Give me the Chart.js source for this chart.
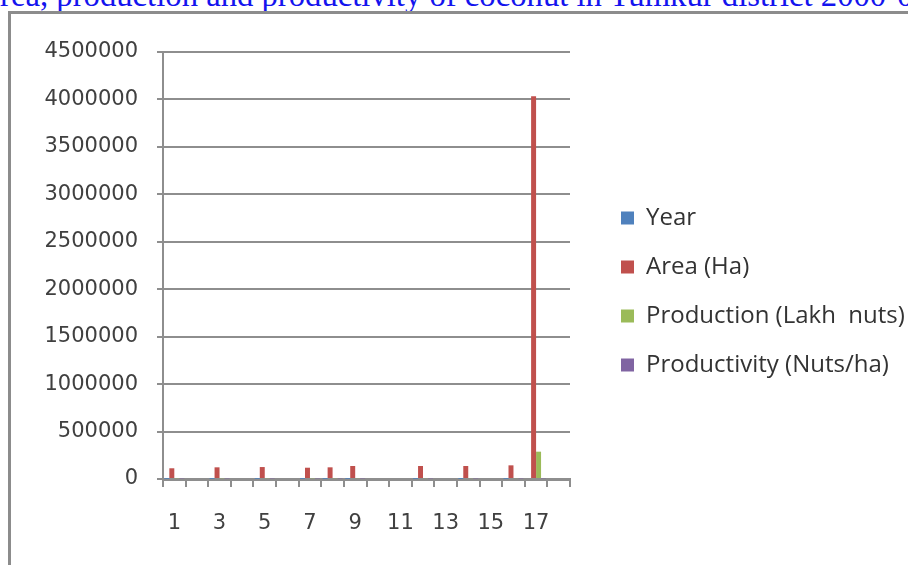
<!DOCTYPE html>
<html>
<head>
<meta charset="utf-8">
<script src="https://cdn.jsdelivr.net/npm/chart.js@4/dist/chart.umd.min.js"></script>
<style>
  html, body { margin: 0; padding: 0; background: #fff; overflow: hidden; width: 908px; height: 565px; }
  #title { position: absolute; left: -23.5px; top: -19.5px; font: 32.7px/28px 'Liberation Serif', 'Times New Roman', serif; color: #1414ee; white-space: nowrap; }
  #frame { position: absolute; left: 8px; top: 11px; width: 1000px; height: 700px; border-left: 3px solid #8c8c8c; border-top: 3px solid #8c8c8c; }
  #wrap { position: absolute; left: 0; top: 0; width: 908px; height: 565px; }
</style>
</head>
<body>
<div id="title">Area, production and productivity of coconut in Tumkur district 2000-01 to 2008-09</div>
<div id="frame"></div>
<div id="wrap"><canvas id="c" width="908" height="565" style="width:908px;height:565px"></canvas></div>
<script>
// Row numbers of the source table (blank rows have no values)
const rows = ['1','2','3','4','5','6','7','8','9','10','11','12','13','14','15','16','17','18'];

const yearValues = [2000, null, 2001, null, 2002, null, 2003, 2004, 2005, null, null, 2006, null, 2007, null, 2008, null, null];
const areaHa = [113000, null, 123000, null, 126000, null, 119000, 123000, 137000, null, null, 137000, null, 137000, null, 144000, 4033000, null];
const productionLakhNuts = [7800, null, 8100, null, 8300, null, 7900, 8200, 8800, null, null, 9000, null, 9100, null, 9300, 288000, null];
const productivityNutsHa = [6900, null, 6600, null, 6600, null, 6600, 6700, 6400, null, null, 6600, null, 6600, null, 6500, 7000, null];

const yTickValues = [0, 500000, 1000000, 1500000, 2000000, 2500000, 3000000, 3500000, 4000000, 4500000];

const axisGrey = '#8e8e8e';
const textGrey = '#404040';
const tickFont = { family: 'DejaVu Sans', size: 21 };

// Give the side legend a fixed width so its swatches line up in one column
const legendSpan = {
  id: 'legendSpan',
  afterInit(chart) {
    const lg = chart.legend;
    if (!lg || lg._spanPatched) return;
    const fit = lg.fit;
    lg.fit = function () { fit.call(this); this.width = 312; };
    lg._spanPatched = true;
  }
};

new Chart(document.getElementById('c'), {
  type: 'bar',
  data: {
    labels: rows,
    datasets: [
      { label: 'Year', data: yearValues, backgroundColor: '#4f81bd' },
      { label: 'Area (Ha)', data: areaHa, backgroundColor: '#c0504d' },
      { label: 'Production (Lakh  nuts)', data: productionLakhNuts, backgroundColor: '#9bbb59' },
      { label: 'Productivity (Nuts/ha)', data: productivityNutsHa, backgroundColor: '#8064a2' }
    ]
  },
  plugins: [legendSpan],
  options: {
    responsive: false,
    animation: false,
    events: [],
    layout: { padding: { top: 52, bottom: 34, left: 0, right: 0 } },
    datasets: { bar: { categoryPercentage: 0.88, barPercentage: 1.0 } },
    scales: {
      x: {
        offset: true,
        grid: { display: true, drawOnChartArea: false, drawTicks: true, tickLength: 8, color: axisGrey, lineWidth: 2, offset: true },
        border: { display: true, color: axisGrey, width: 3 },
        ticks: {
          autoSkip: false,
          maxRotation: 0,
          padding: 24,
          color: textGrey,
          font: tickFont,
          callback: (v, i) => (i % 2 === 0 ? rows[i] : '')
        },
        afterFit: (s) => { s.height = 52; }
      },
      y: {
        min: 0,
        max: 4500000,
        afterBuildTicks: (s) => { s.ticks = yTickValues.map(v => ({ value: v })); },
        grid: { color: axisGrey, lineWidth: 2, drawTicks: true, tickLength: 6 },
        border: { display: true, color: axisGrey, width: 2 },
        ticks: { padding: 19, color: textGrey, font: tickFont, callback: (v) => String(v) },
        afterFit: (s) => { s.width = 163; }
      },
      gap: {
        type: 'linear',
        position: 'right',
        display: true,
        grid: { display: false },
        border: { display: false },
        ticks: { display: false },
        afterFit: (s) => { s.width = 26; }
      }
    },
    plugins: {
      title: { display: false },
      tooltip: { enabled: false },
      legend: {
        position: 'right',
        align: 'center',
        labels: {
          boxWidth: 13,
          boxHeight: 13,
          padding: 25,
          color: '#333333',
          font: { family: 'Open Sans', size: 24 }
        }
      }
    }
  }
});
</script>
</body>
</html>
